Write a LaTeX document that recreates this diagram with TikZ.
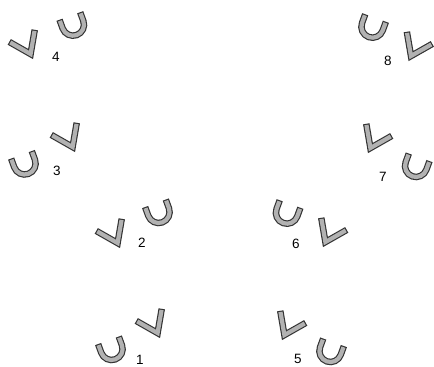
\documentclass[tikz,border=0pt]{standalone}
\usepackage{fontspec}
\setmainfont{Liberation Sans}
\usepackage{tikz}

\begin{document}
\begin{tikzpicture}[
  x=1pt, y=-1pt,
  piece/.style={draw=black!80, line width=6.5pt, line join=miter, line cap=rect, postaction={draw=gray!60, line width=4.2pt}},
  num/.style={font=\fontsize{13.5}{14}\selectfont, inner sep=0pt},
  vleft/.pic={\draw[piece] (-18.5,-10.5) -- (0,0) -- (3.6,-21);},
  vright/.pic={\draw[piece] (-3.6,-21) -- (0,0) -- (18.5,-10.5);},
  horseshoe/.pic={\draw[piece] (-11,-6) -- (-11,0) arc[start angle=180, end angle=0, radius=11] -- (11,-6);}
]
\useasboundingbox (0,0) rectangle (434,367);

% left column
\pic at (30.6,54) {vleft};
\pic[rotate=20] at (73,24.7) {horseshoe};
\node[num] (n4) at (56,57) {4};

\pic[rotate=20] at (24.6,163.5) {horseshoe};
\pic at (72.6,147) {vleft};
\node[num] (n3) at (57,171) {3};

\pic at (117.6,243) {vleft};
\pic[rotate=20] at (158.6,212) {horseshoe};
\node[num] (n2) at (142,243) {2};

\pic[rotate=20] at (111.6,349) {horseshoe};
\pic at (157.6,333) {vleft};
\node[num] (n1) at (140,360) {1};

% right column
\pic[rotate=-20] at (372.4,26.7) {horseshoe};
\pic at (411,56) {vright};
\node[num] (n8) at (388,61) {8};

\pic at (370.4,148) {vright};
\pic[rotate=-20] at (416,166) {horseshoe};
\node[num] (n7) at (383,177) {7};

\pic[rotate=-20] at (286.9,212.7) {horseshoe};
\pic at (325.4,242) {vright};
\node[num] (n6) at (296,244) {6};

\pic at (284.4,335) {vright};
\pic[rotate=-20] at (330.4,351) {horseshoe};
\node[num] (n5) at (298,359) {5};
\end{tikzpicture}
\end{document}
